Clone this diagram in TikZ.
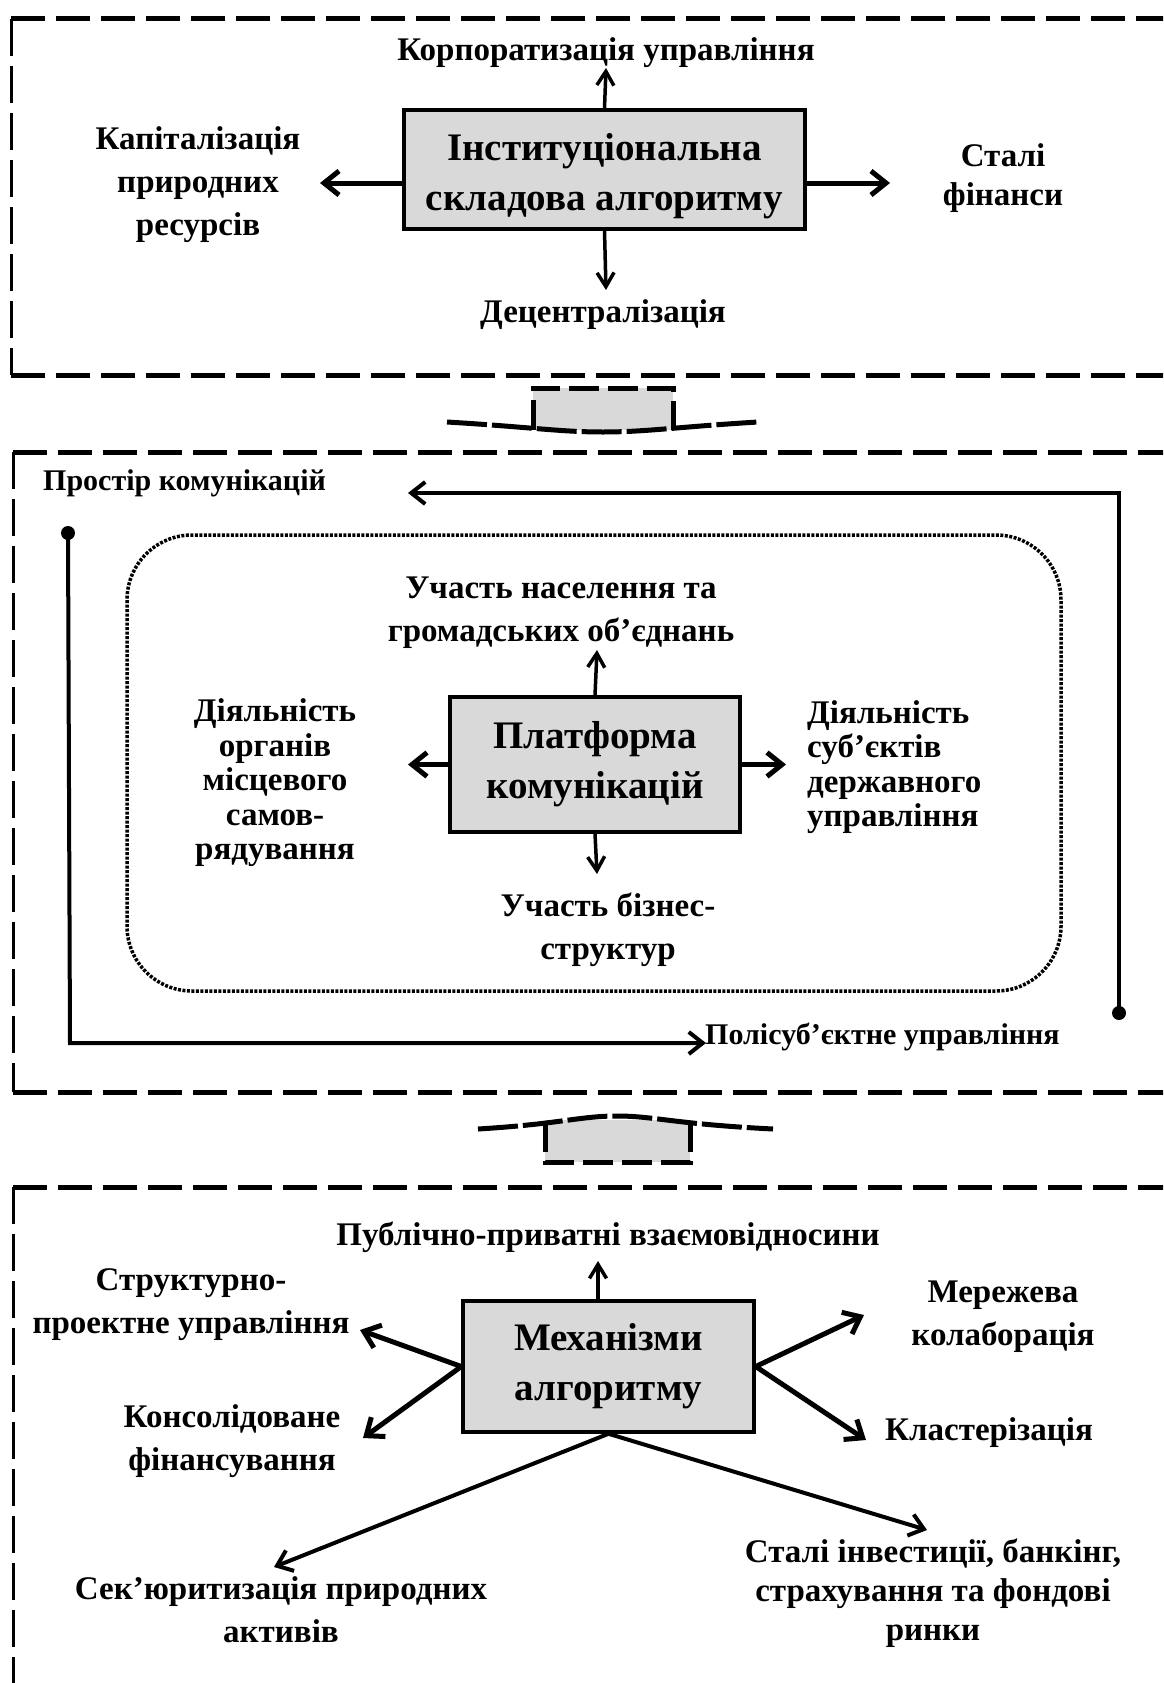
\documentclass[tikz,border=0pt]{standalone}
\usepackage{fontspec}
\setmainfont{Liberation Serif}
\usetikzlibrary{arrows.meta}
\definecolor{boxgray}{gray}{0.85}
\begin{document}
\begin{tikzpicture}[x=1pt,y=-1pt,
  lbl/.style={font=\bfseries\fontsize{33}{43}\selectfont,align=center,inner sep=0pt,yshift=-3pt},
  lbltight/.style={font=\bfseries\fontsize{33}{34.5}\selectfont,inner sep=0pt},
  lblsm/.style={font=\bfseries\fontsize{30}{40}\selectfont,inner sep=0pt},
  mainbox/.style={draw,line width=3.5pt,fill=boxgray,inner sep=0pt},
  boxtxt/.style={font=\bfseries\fontsize{39}{50}\selectfont,align=center,inner sep=0pt},
  panelh/.style={line width=5pt,dash pattern=on 34pt off 11pt},
  panelv/.style={line width=3pt,dash pattern=on 37pt off 10pt},
  conn/.style={line width=5pt,dash pattern=on 30pt off 9pt},
  wave/.style={line width=5pt,dash pattern=on 40pt off 5pt},
  thinarr/.style={line width=3.5pt,-{Straight Barb[length=14pt,width=17pt]}},
  thickarr/.style={line width=5pt,-{Straight Barb[length=15pt,width=24pt]}},
  looparr/.style={line width=4pt,-{Straight Barb[length=14pt,width=22pt]}},
  dotline/.style={line width=3.5pt,dash pattern=on 3pt off 1.5pt,rounded corners=65pt}
]
\useasboundingbox (0,0) rectangle (1163,1683);
\clip (0,0) rectangle (1163,1683);

% ---------- panels ----------
\draw[panelh] (11,19) -- (1220,19);
\draw[panelh] (11,375) -- (1220,375);
\draw[panelv] (11,19) -- (11,375);

\draw[panelh] (13,452) -- (1220,452);
\draw[panelh] (13,1092) -- (1220,1092);
\draw[panelv] (13,452) -- (13,1092);

\draw[panelh] (13,1187) -- (1220,1187);
\draw[panelv] (13,1187) -- (13,1720);

% ---------- connectors between panels ----------
\fill[boxgray] (533,388) rectangle (673,430);
\draw[conn] (533,430) -- (533,388) -- (673,388) -- (673,430);
\draw[wave] (447,422) .. controls (530,427) and (560,432) .. (603,432) .. controls (646,432) and (676,427) .. (758,422);

\fill[boxgray] (545,1120) rectangle (690,1162);
\draw[conn] (545,1122) -- (545,1162) -- (690,1162) -- (690,1122);
\draw[wave] (478,1129) .. controls (560,1124) and (580,1116) .. (617,1116) .. controls (654,1116) and (674,1124) .. (773,1129);

% ---------- top panel ----------
\node[mainbox,minimum width=401pt,minimum height=119pt] (b1) at (604.5,169.5) {};
\node[boxtxt] (b1t) at ([yshift=-6.5pt]b1.center) {Інституціональна\\складова алгоритму};
\node[lbl] (lkorp) at (606,50) {Корпоратизація управління};
\node[lbl] (lkap) at (198,182) {Капіталізація\\природних\\ресурсів};
\node[lbl,font=\bfseries\fontsize{33}{39}\selectfont] (lstali) at (1003,175) {Сталі\\фінанси};
\node[lbl] (ldec) at (603,312) {Децентралізація};

\coordinate (t1up) at (606,68);
\coordinate (t1left) at (320,183);
\coordinate (t1right) at (890,183);
\coordinate (t1down) at (606,290);
\draw[thinarr] (b1.north) -- (t1up);
\draw[thickarr] (b1.west |- t1left) -- (t1left);
\draw[thickarr] (b1.east |- t1right) -- (t1right);
\draw[thinarr] (b1.south) -- (t1down);

% ---------- middle panel ----------
\draw[dotline] (127,535) rectangle (1061,991);

\node[lblsm,anchor=west] (lprostir) at (43,483) {Простір комунікацій};
\node[lblsm,anchor=west] (lpoli) at (705,1037) {Полісуб’єктне управління};

\coordinate (dotR) at (1119,1013);
\coordinate (cornR) at (1119,493);
\coordinate (tipR) at (408,493);
\coordinate (dotL) at (68,533);
\coordinate (cornL) at (70,1043);
\coordinate (tipL) at (706,1043);
\draw[looparr] (dotR) -- (cornR) -- (tipR);
\draw[looparr] (dotL) -- (cornL) -- (tipL);
\fill (dotR) circle (7pt);
\fill (dotL) circle (7pt);

\node[mainbox,minimum width=290pt,minimum height=135pt] (b2) at (595,764.5) {};
\node[boxtxt] (b2t) at (b2.center) {Платформа\\комунікацій};
\node[lbl] (luch) at (561,610) {Участь населення та\\громадських об’єднань};
\node[lbltight,align=center] (ldial1) at (275,783) {Діяльність\\органів\\місцевого\\самов-\\рядування};
\node[lbltight,align=left,anchor=west] (ldial2) at (807,767) {Діяльність\\суб’єктів\\державного\\управління};
\node[lbl] (lbiz) at (608,927) {Участь бізнес-\\структур};

\coordinate (t2up) at (597,650);
\coordinate (t2left) at (408,764.5);
\coordinate (t2right) at (786,764.5);
\coordinate (t2down) at (597,874);
\draw[thinarr] (b2.north) -- (t2up);
\draw[thickarr] (b2.west) -- (t2left);
\draw[thickarr] (b2.east) -- (t2right);
\draw[thinarr] (b2.south) -- (t2down);

% ---------- bottom panel ----------
\node[mainbox,minimum width=291pt,minimum height=131pt] (b3) at (608.5,1366.5) {};
\node[boxtxt] (b3t) at (b3.center) {Механізми\\алгоритму};
\node[lbl] (lpub) at (608,1234) {Публічно-приватні взаємовідносини};
\node[lbl] (lstr) at (191,1302) {Структурно-\\проектне управління};
\node[lbl] (lkons) at (232,1438) {Консолідоване\\фінансування};
\node[lbl] (lmer) at (1003,1314) {Мережева\\колаборація};
\node[lbl,anchor=west] (lklast) at (885,1430) {Кластерізація};
\node[lbl] (lsek) at (281,1607) {Сек’юритизація природних\\активів};
\node[lbl,font=\bfseries\fontsize{33}{39}\selectfont] (lstal2) at (933,1590) {Сталі інвестиції, банкінг,\\страхування та фондові\\ринки};

\coordinate (t3up) at (598,1261);
\coordinate (t3str) at (360,1330);
\coordinate (t3kons) at (363,1438);
\coordinate (t3mer) at (864,1315);
\coordinate (t3kl) at (866,1440);
\coordinate (t3sek) at (274,1567);
\coordinate (t3stal) at (927,1530);
\draw[thinarr] (b3.north -| t3up) -- (t3up);
\draw[thickarr] (b3.west) -- (t3str);
\draw[thickarr] (b3.west) -- (t3kons);
\draw[thickarr] (b3.east) -- (t3mer);
\draw[thickarr] (b3.east) -- (t3kl);
\draw[looparr] (b3.south) -- (t3sek);
\draw[looparr] (b3.south) -- (t3stal);
\end{tikzpicture}
\end{document}
